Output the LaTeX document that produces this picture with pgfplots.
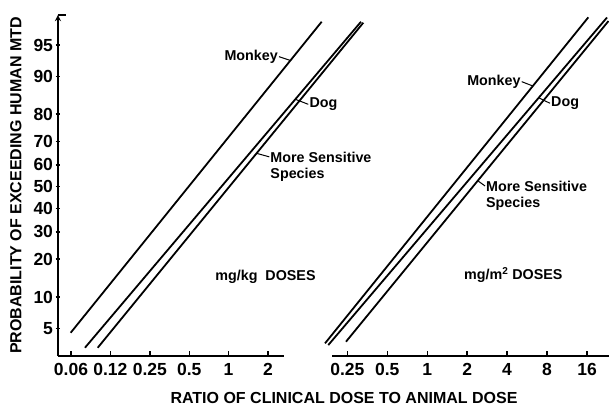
\documentclass[border=0pt]{standalone}
\usepackage{fontspec}
\setmainfont{Liberation Sans}
\usepackage{pgfplots}
\pgfplotsset{compat=1.18}
\newcommand\labfont{\bfseries\fontsize{16}{19}\selectfont}
\newcommand\ticfont{\bfseries\fontsize{17.5}{20}\selectfont}
\newcommand\annfont{\bfseries\fontsize{14.3}{16}\selectfont}
% y values are probit (normal z) units; x values are dose ratios (log2 axis)
\pgfplotsset{
  panel/.style={
    scale only axis, height=341pt,
    ymin=-1.966, ymax=1.993,
    axis x line=bottom,
    axis line style={-, line width=1.7pt},
    every outer x axis line/.append style={-},
    every outer y axis line/.append style={-},
    tick align=inside, major tick length=5pt,
    every tick/.style={line width=1.4pt, black},
    clip=false,
    tick label style={font=\ticfont},
    xticklabel style={yshift=-4pt},
    yticklabel style={xshift=1pt},
  },
  ln/.style={black, line width=1.8pt, mark=none},
}
\begin{document}
\begin{tikzpicture}
\path[use as bounding box] (0,0) rectangle (609pt,407pt);
% ---------------- left panel: mg/kg doses
\begin{axis}[xmode=log, log basis x=2, panel,
  at={(58pt,51pt)}, anchor=south west, width=226pt,
  xmin=0.04972, xmax=2.650,
  axis y line=left,
  xtick={0.0625,0.125,0.25,0.5,1,2},
  xticklabels={0.06,0.12,0.25,0.5,1,2},
  ytick={-1.6449,-1.2816,-0.8416,-0.5244,-0.2533,0,0.2533,0.5244,0.8416,1.2816,1.6449},
  yticklabels={5,10,20,30,40,50,60,70,80,90,95},
  extra y ticks={1.993}, extra y tick labels={},
  extra y tick style={tick align=inside, major tick length=8pt},
  ylabel={PROBABILITY OF EXCEEDING HUMAN MTD},
  ylabel style={at={(axis description cs:-0.186,0.5)}, anchor=center, font=\labfont},
  xlabel={RATIO OF CLINICAL DOSE TO ANIMAL DOSE},
  xlabel style={at={(axis description cs:1.2655,-0.1232)}, anchor=center, font=\labfont},
]
\addplot[ln] coordinates {(0.06215,-1.696) (5.144,1.915)};   % Monkey
\addplot[ln] coordinates {(0.0799,-1.870) (10.27,1.915)};    % Dog
\addplot[ln] coordinates {(0.1000,-1.870) (10.70,1.904)};    % More sensitive species
\node[anchor=east, font=\annfont, inner sep=1pt] (mk) at (axis cs:2.427,1.509) {Monkey};
\draw[line width=1pt] (mk.east) -- (axis cs:2.945,1.467);
\node[anchor=west, font=\annfont, inner sep=1pt] (dg) at (axis cs:4.064,0.956) {Dog};
\draw[line width=1pt] (dg.west) -- (axis cs:3.238,1.014);
\node[anchor=west, font=\annfont, align=left, inner sep=1pt] (ms) at (axis cs:2.046,0.2317) {More Sensitive\\Species};
\draw[line width=1pt] ([yshift=-6pt]ms.north west) -- (axis cs:1.634,0.387);
\node[font=\annfont] at (axis cs:1.914,-1.046) {mg/kg\ \ DOSES};
\end{axis}
% ---------------- right panel: mg/m^2 doses
\begin{axis}[xmode=log, log basis x=2, panel,
  at={(332pt,51pt)}, anchor=south west, width=277pt,
  xmin=0.1917, xmax=23.44,
  axis y line=none,
  xtick={0.25,0.5,1,2,4,8,16},
  xticklabels={0.25,0.5,1,2,4,8,16},
]
\addplot[ln] coordinates {(0.1698,-1.819) (16.37,1.966)};    % Monkey
\addplot[ln] coordinates {(0.1797,-1.839) (22.64,1.964)};    % Dog
\addplot[ln] coordinates {(0.2443,-1.800) (23.23,1.923)};    % More sensitive species
\node[anchor=east, font=\annfont, inner sep=1pt] (mk2) at (axis cs:5.153,1.219) {Monkey};
\draw[line width=1pt] (mk2.east) -- (axis cs:6.247,1.169);
\node[anchor=west, font=\annfont, inner sep=1pt] (dg2) at (axis cs:8.42,0.968) {Dog};
\draw[line width=1pt] (dg2.west) -- (axis cs:6.98,1.029);
\node[anchor=west, font=\annfont, align=left, inner sep=1pt] (ms2) at (axis cs:2.726,-0.106) {More Sensitive\\Species};
\draw[line width=1pt] ([yshift=-6pt]ms2.north west) -- (axis cs:2.419,0.0656);
\node[font=\annfont] at (axis cs:4.454,-1.026) {mg/m\textsuperscript{2} DOSES};
\end{axis}
\end{tikzpicture}
\end{document}
